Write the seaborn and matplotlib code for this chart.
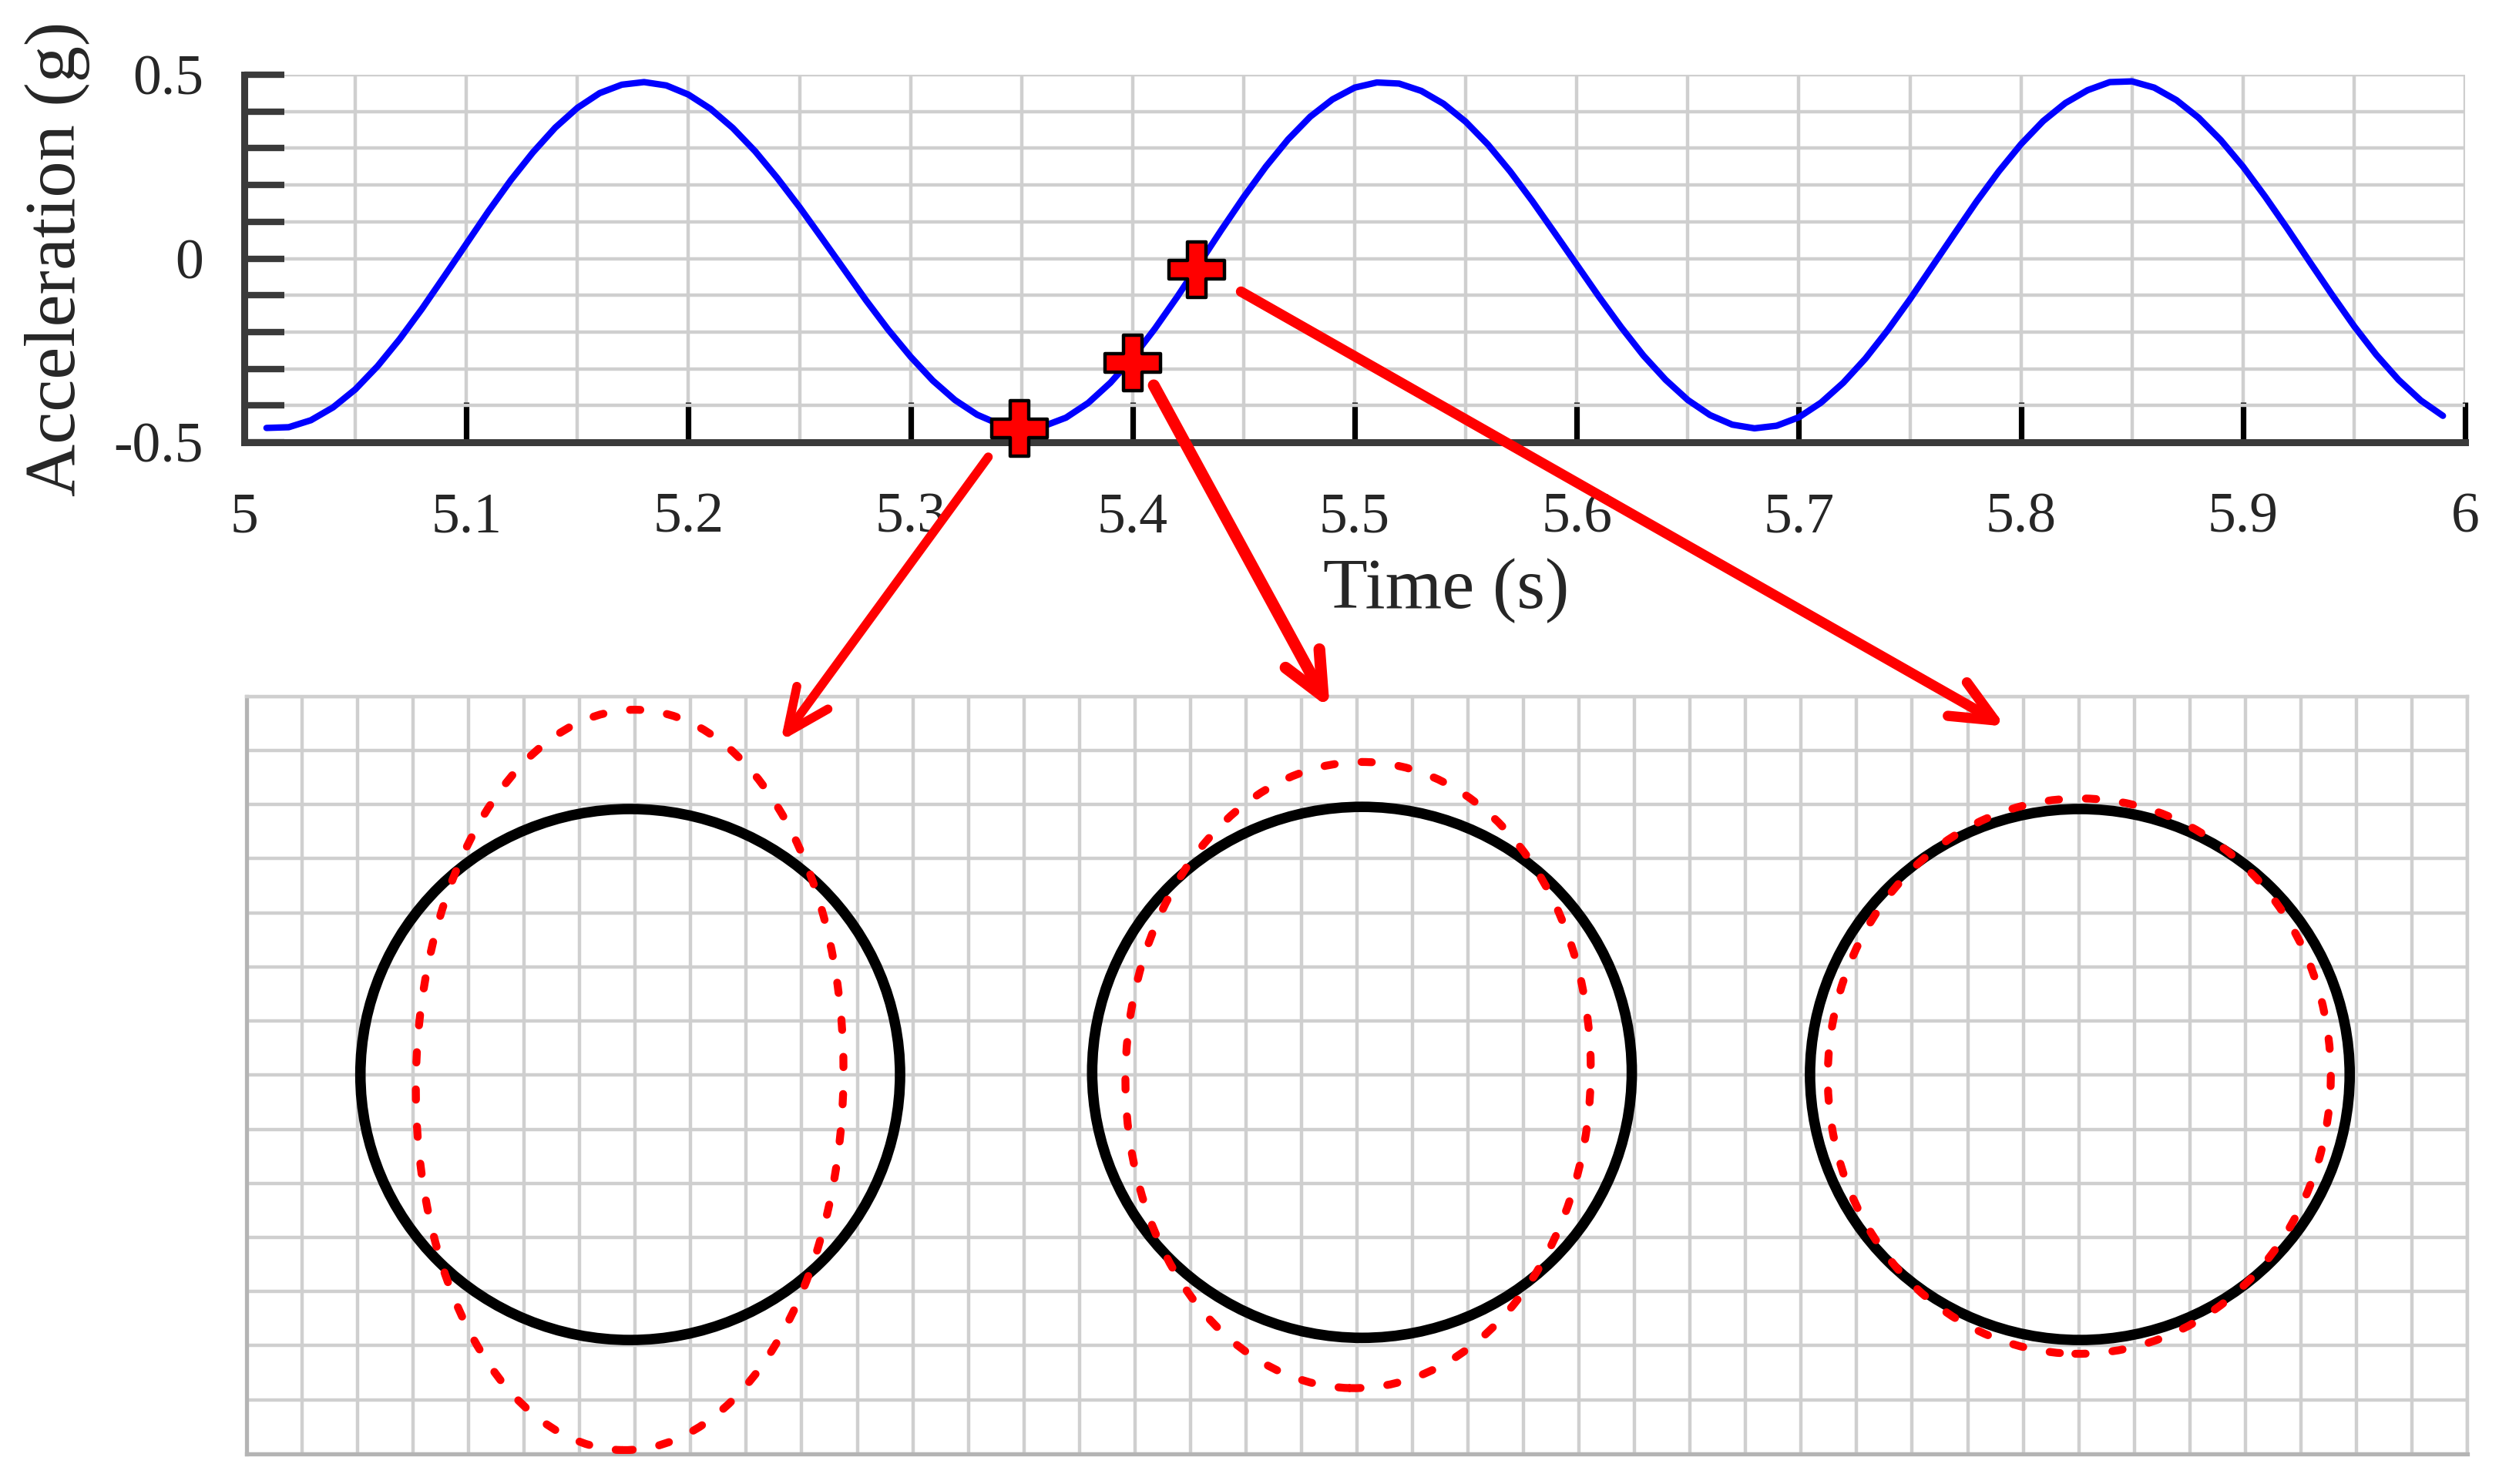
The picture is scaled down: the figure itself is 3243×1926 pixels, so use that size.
import numpy as np
import pandas as pd
import matplotlib
matplotlib.use("Agg")
import matplotlib.pyplot as plt
from matplotlib.patches import Ellipse, ConnectionPatch
from matplotlib.ticker import MultipleLocator
import seaborn as sns

# acceleration trace (s, g)
time_s = [5.01, 5.02, 5.03, 5.04, 5.05, 5.06, 5.07, 5.08, 5.09, 5.10,
          5.11, 5.12, 5.13, 5.14, 5.15, 5.16, 5.17, 5.18, 5.19, 5.20,
          5.21, 5.22, 5.23, 5.24, 5.25, 5.26, 5.27, 5.28, 5.29, 5.30,
          5.31, 5.32, 5.33, 5.34, 5.35, 5.36, 5.37, 5.38, 5.39, 5.40,
          5.41, 5.42, 5.43, 5.44, 5.45, 5.46, 5.47, 5.48, 5.49, 5.50,
          5.51, 5.52, 5.53, 5.54, 5.55, 5.56, 5.57, 5.58, 5.59, 5.60,
          5.61, 5.62, 5.63, 5.64, 5.65, 5.66, 5.67, 5.68, 5.69, 5.70,
          5.71, 5.72, 5.73, 5.74, 5.75, 5.76, 5.77, 5.78, 5.79, 5.80,
          5.81, 5.82, 5.83, 5.84, 5.85, 5.86, 5.87, 5.88, 5.89, 5.90,
          5.91, 5.92, 5.93, 5.94, 5.95, 5.96, 5.97, 5.98, 5.99]
accel_g = [-0.461, -0.459, -0.440, -0.405, -0.356, -0.293, -0.219, -0.137, -0.049, 0.040,
           0.129, 0.213, 0.289, 0.356, 0.410, 0.450, 0.473, 0.480, 0.471, 0.446,
           0.407, 0.355, 0.292, 0.219, 0.140, 0.056, -0.029, -0.114, -0.194, -0.267,
           -0.332, -0.385, -0.425, -0.451, -0.462, -0.456, -0.433, -0.393, -0.338, -0.270,
           -0.191, -0.105, -0.014, 0.078, 0.167, 0.250, 0.324, 0.386, 0.433, 0.465,
           0.479, 0.476, 0.456, 0.421, 0.372, 0.310, 0.237, 0.156, 0.070, -0.017,
           -0.104, -0.187, -0.264, -0.330, -0.385, -0.426, -0.452, -0.462, -0.455, -0.432,
           -0.392, -0.338, -0.272, -0.195, -0.111, -0.022, 0.067, 0.155, 0.237, 0.311,
           0.374, 0.423, 0.458, 0.480, 0.482, 0.465, 0.431, 0.383, 0.322, 0.250,
           0.168, 0.081, -0.009, -0.098, -0.184, -0.262, -0.330, -0.386, -0.428]

# highlighted instants
marker_t = [5.349, 5.400, 5.429]
marker_g = [-0.462, -0.284, -0.030]

xtick_vals = [5.0, 5.1, 5.2, 5.3, 5.4, 5.5, 5.6, 5.7, 5.8, 5.9, 6.0]
xtick_labels = ["5", "5.1", "5.2", "5.3", "5.4", "5.5", "5.6", "5.7", "5.8", "5.9", "6"]
ytick_vals = [-0.5, 0.0, 0.5]
ytick_labels = ["-0.5", "0", "0.5"]

# lower panel, in grid cells (40 x 14)
circle_x = [6.91, 20.09, 33.02]
circle_y = [7.01, 7.05, 7.01]
circle_w = 9.72
circle_h = 9.81
ell_x = [6.90, 20.02, 33.01]
ell_y = [6.91, 7.00, 6.98]
ell_w = [7.70, 8.38, 9.06]
ell_h = [13.68, 11.57, 10.26]
ell_angle = [-1.1, -1.4, -0.8]

# arrows: start on the time plot, end on the grid panel
arrow_start_t = [5.335, 5.4095, 5.4488]
arrow_start_g = [-0.540, -0.345, -0.090]
arrow_end_x = [9.62, 19.51, 31.68]
arrow_end_y = [13.17, 13.77, 13.44]
arrow_lw = [8.4, 11.0, 9.6]

sns.set_style("white")
plt.rcParams['font.family'] = ['Liberation Serif', 'DejaVu Serif']

fig = plt.figure(figsize=(32.43, 19.26), dpi=100)
ax = fig.add_axes([0.09775, 0.70197, 0.8887, 0.24766])
axb = fig.add_axes([0.09867, 0.02025, 0.88868, 0.51064])

grid_col = "#cfcfcf"
spine_col = "#3a3a3a"

### top: acceleration trace
df = pd.DataFrame({"t": time_s, "a": accel_g})
sns.lineplot(data=df, x="t", y="a", ax=ax, color="#0000ff", lw=6, zorder=3)
sns.scatterplot(x=marker_t, y=marker_g, ax=ax, marker="P", s=2750, color="#ff0000",
                edgecolor="black", linewidth=3.2, zorder=6, clip_on=False)

ax.set_xlim(5, 6)
ax.set_ylim(-0.5, 0.5)
ax.set_xticks(xtick_vals)
ax.set_xticklabels(xtick_labels)
ax.xaxis.set_minor_locator(MultipleLocator(0.05))
ax.set_yticks(ytick_vals)
ax.set_yticklabels(ytick_labels)
ax.yaxis.set_minor_locator(MultipleLocator(0.1))
ax.set_axisbelow(True)
ax.grid(which="both", color=grid_col, lw=3.2)

ax.tick_params(axis="x", which="major", bottom=True, direction="in", length=37.5, width=5.2,
               color="black", pad=47, labelsize=53)
ax.tick_params(axis="x", which="minor", bottom=False, length=0)
ax.tick_params(axis="y", which="both", left=True, direction="in", length=37.5, width=6,
               color=spine_col, pad=38, labelsize=53)

for s in ["top", "right"]:
    ax.spines[s].set_visible(False)
for s in ["left", "bottom"]:
    ax.spines[s].set_color(spine_col)
    ax.spines[s].set_linewidth(6.5)

ax.set_xlabel("Time (s)", fontsize=68)
ax.set_ylabel("Acceleration (g)", fontsize=68)
ax.xaxis.set_label_coords(0.541, -0.315)
ax.yaxis.set_label_coords(-0.0694, 0.5)

### bottom: grid with sections
axb.set_xlim(0, 40)
axb.set_ylim(0, 14)
axb.xaxis.set_major_locator(MultipleLocator(1))
axb.yaxis.set_major_locator(MultipleLocator(1))
axb.tick_params(length=0, labelbottom=False, labelleft=False)
axb.set_axisbelow(True)
axb.grid(color=grid_col, lw=3.2)
for s in ["top", "right"]:
    axb.spines[s].set_color(grid_col)
    axb.spines[s].set_linewidth(3.2)
for s in ["left", "bottom"]:
    axb.spines[s].set_color("#b4b4b4")
    axb.spines[s].set_linewidth(3.8)

for cx, cy in zip(circle_x, circle_y):
    axb.add_patch(Ellipse((cx, cy), circle_w, circle_h, fill=False,
                          ec="black", lw=9.8, zorder=3))
for cx, cy, w, h, ang in zip(ell_x, ell_y, ell_w, ell_h, ell_angle):
    e = Ellipse((cx, cy), w, h, angle=ang, fill=False, ec="#ff0000", lw=7.4,
                ls=(0, (1.3, 3.4)), capstyle="round", zorder=4)
    axb.add_patch(e)

for t0, g0, x1, y1, lw in zip(arrow_start_t, arrow_start_g, arrow_end_x, arrow_end_y, arrow_lw):
    con = ConnectionPatch(xyA=(t0, g0), coordsA=ax.transData,
                          xyB=(x1, y1), coordsB=axb.transData,
                          arrowstyle="->,head_length=40,head_width=18",
                          mutation_scale=1, shrinkA=0, shrinkB=0,
                          color="#ff0000", lw=lw, capstyle="round",
                          joinstyle="round", zorder=10)
    fig.add_artist(con)

fig.savefig("out.png", dpi=100)
